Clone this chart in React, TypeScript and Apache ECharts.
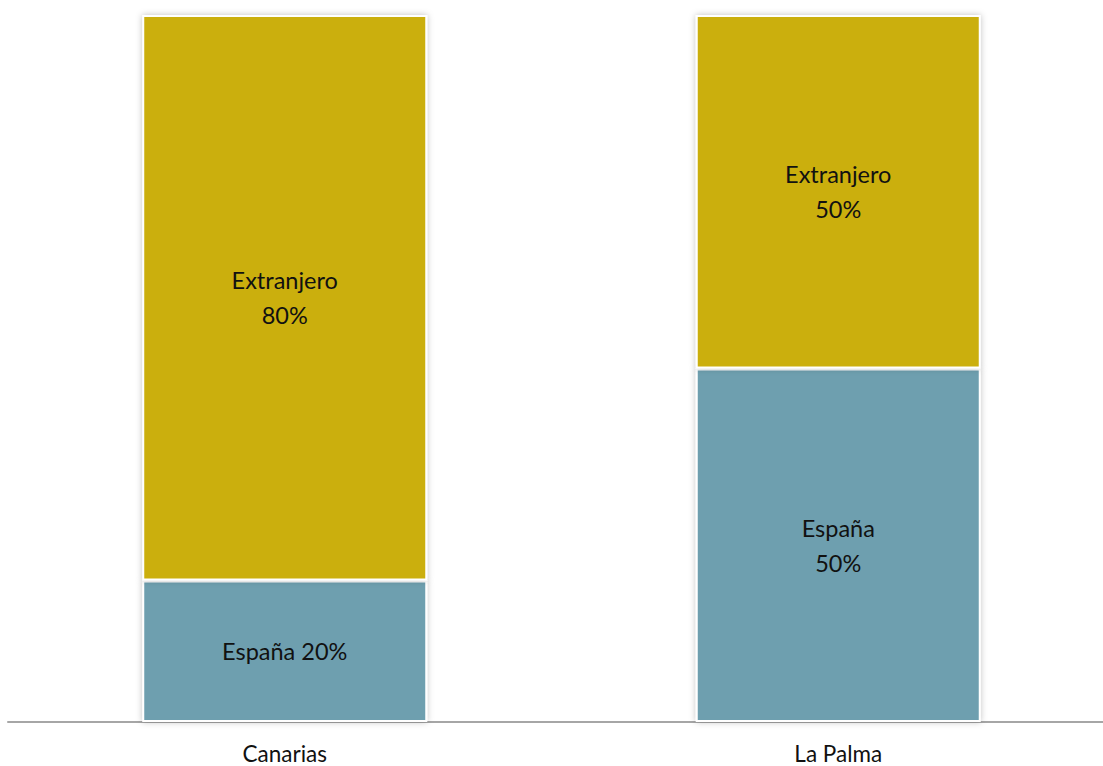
import React, { useEffect, useRef } from "react";
import * as echarts from "echarts";

const categories = ["Canarias", "La Palma"];
const espana = [20, 50];
const extranjero = [80, 50];
const espanaName = "España";
const extranjeroName = "Extranjero";

export default function App() {
  const ref = useRef<HTMLDivElement>(null);
  useEffect(() => {
    if (!ref.current) return;
    const chart = echarts.init(ref.current, undefined, { renderer: "svg" });
    const font = "Lato";
    const labelBase = {
      show: true,
      position: "inside",
      color: "#111",
      fontFamily: font,
      fontSize: 23.5,
      lineHeight: 35,
    };
    chart.setOption({
      animation: false,
      grid: {
        left: 8,
        top: 15,
        width: 1107,
        bottom: 44,
        containLabel: false,
        outerBoundsMode: "none",
      },
      xAxis: {
        type: "category",
        data: categories,
        axisLine: { show: true, lineStyle: { color: "#a6a6a6", width: 2 } },
        axisTick: { show: false },
        axisLabel: {
          color: "#111",
          fontFamily: font,
          fontSize: 22.5,
          lineHeight: 22,
          margin: 20,
        },
      },
      yAxis: {
        type: "value",
        min: 0,
        max: 100,
        show: false,
        splitLine: { show: false },
      },
      series: [
        {
          name: espanaName,
          type: "bar",
          stack: "total",
          barWidth: 285,
          data: espana.map((v, i) => ({
            value: v,
            label: {
              ...labelBase,
              formatter: i === 0 ? "{a} {c}%" : "{a}\n{c}%",
            },
          })),
          itemStyle: {
            color: "#6e9faf",
            borderColor: "#ffffff",
            borderWidth: 2,
            shadowColor: "rgba(0,0,0,0.25)",
            shadowBlur: 6,
          },
        },
        {
          name: extranjeroName,
          type: "bar",
          stack: "total",
          barWidth: 285,
          data: extranjero.map((v) => ({
            value: v,
            label: { ...labelBase, formatter: "{a}\n{c}%" },
          })),
          itemStyle: {
            color: "#cbaf0b",
            borderColor: "#ffffff",
            borderWidth: 2,
            shadowColor: "rgba(0,0,0,0.25)",
            shadowBlur: 6,
          },
        },
      ],
    });
    return () => chart.dispose();
  }, []);
  return (
    <div
      ref={ref}
      style={{ position: "fixed", left: 0, top: 0, width: 1103, height: 766, background: "#fff" }}
    />
  );
}
